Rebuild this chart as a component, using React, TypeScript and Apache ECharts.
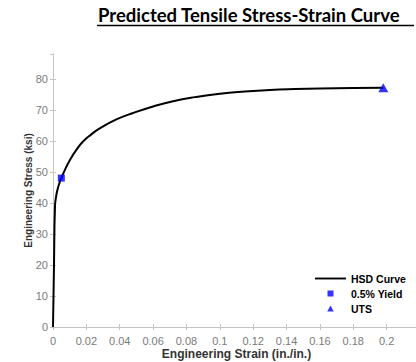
import React, { useEffect, useRef } from "react";
import * as echarts from "echarts";

const strain = [0, 0.0006, 0.0012, 0.002, 0.003, 0.004, 0.005, 0.007, 0.01, 0.014, 0.018, 0.023, 0.028, 0.038, 0.048, 0.06, 0.072, 0.085, 0.1, 0.115, 0.13, 0.145, 0.16, 0.18, 0.198];
const stress = [0, 20, 39, 42.5, 44.9, 46.6, 48, 50.5, 53.7, 57.1, 59.8, 62.1, 64, 66.9, 69, 71.1, 72.8, 74.1, 75.2, 75.9, 76.4, 76.7, 76.9, 77.05, 77.15];
const yieldPoint = [0.005, 48];
const utsPoint = [0.198, 77.15];
const seriesNames = ["HSD Curve", "0.5% Yield", "UTS"];
const titleText = "Predicted Tensile Stress-Strain Curve";

export default function App() {
  const ref = useRef<HTMLDivElement>(null);
  useEffect(() => {
    if (!ref.current) return;
    const chart = echarts.init(ref.current, null, { renderer: "svg" });
    const axisGray = "#c4c4c4";
    const labelGray = "#7a7a7a";
    const font = "Liberation Sans";
    chart.setOption({
      animation: false,
      title: {
        text: titleText,
        left: 98,
        top: 5,
        padding: 0,
        textStyle: { fontFamily: "Lato", fontWeight: "bold", fontSize: 18.5, color: "#000" },
      },
      graphic: [
        { type: "line", shape: { x1: 97, y1: 25.5, x2: 414, y2: 25.5 }, style: { stroke: "#000", lineWidth: 1.6 } },
      ],
      grid: { left: 53, top: 54, right: -4, bottom: 35, containLabel: false, outerBoundsMode: "none" },
      legend: {
        left: 315,
        top: 273,
        padding: 0,
        orient: "vertical",
        itemWidth: 31,
        itemHeight: 6,
        itemGap: 4,
        symbolKeepAspect: true,
        data: [
          { name: seriesNames[0], icon: "path://M0,0H33V2H0Z" },
          { name: seriesNames[1], icon: "path://M0,0H5V5H0Z" },
          { name: seriesNames[2], icon: "path://M3,0L6,5.5L0,5.5Z" },
        ],
        textStyle: { fontFamily: font, fontWeight: "bold", fontSize: 10.5, color: "#000" },
      },
      xAxis: [
        {
          type: "value",
          min: 0,
          max: 0.22,
          interval: 0.02,
          name: "Engineering Strain (in./in.)",
          nameLocation: "middle",
          nameGap: 21,
          nameMoveOverlap: false,
          nameTextStyle: { fontFamily: font, fontWeight: "bold", fontSize: 12, color: "#333" },
          axisLine: { lineStyle: { color: axisGray } },
          axisTick: { inside: true, length: 3, lineStyle: { color: axisGray } },
          axisLabel: {
            showMaxLabel: false,
            margin: 8,
            color: labelGray,
            fontFamily: font,
            fontSize: 11,
            formatter: (v: number) => String(+v.toFixed(2)),
          },
          splitLine: { show: false },
        },
        {
          type: "value",
          position: "top",
          min: 0,
          max: 0.22,
          interval: 0.02,
          axisLine: { lineStyle: { color: axisGray } },
          axisTick: { inside: true, length: 3, lineStyle: { color: axisGray } },
          axisLabel: { show: false },
          splitLine: { show: false },
        },
      ],
      yAxis: [
        {
          type: "value",
          min: 0,
          max: 88,
          interval: 10,
          name: "Engineering Stress (ksi)",
          nameLocation: "middle",
          nameGap: 20,
          nameMoveOverlap: false,
          nameTextStyle: { fontFamily: font, fontWeight: "bold", fontSize: 10, color: "#333" },
          axisLine: { show: true, lineStyle: { color: axisGray } },
          axisTick: { show: true, inside: true, length: 3, lineStyle: { color: axisGray } },
          axisLabel: { showMaxLabel: false, margin: 5, color: labelGray, fontFamily: font, fontSize: 11 },
          splitLine: { show: false },
        },
        {
          type: "value",
          position: "right",
          min: 0,
          max: 88,
          interval: 10,
          axisLine: { show: true, lineStyle: { color: axisGray } },
          axisTick: { show: true, inside: true, length: 3, lineStyle: { color: axisGray } },
          axisLabel: { show: false },
          splitLine: { show: false },
        },
      ],
      series: [
        {
          name: seriesNames[0],
          type: "line",
          data: strain.map((x, i) => [x, stress[i]]),
          showSymbol: false,
          symbol: "none",
          smooth: 0.5,
          lineStyle: { color: "#000", width: 2 },
          itemStyle: { color: "#000" },
          z: 3,
        },
        {
          name: seriesNames[1],
          type: "scatter",
          data: [yieldPoint],
          symbol: "rect",
          symbolSize: 7,
          itemStyle: { color: "#0000ff" },
          z: 4,
        },
        {
          name: seriesNames[2],
          type: "scatter",
          data: [utsPoint],
          symbol: "triangle",
          symbolSize: [10, 9],
          itemStyle: { color: "#0000ff" },
          z: 4,
        },
      ],
    });
    return () => chart.dispose();
  }, []);
  return (
    <div
      ref={ref}
      style={{ position: "absolute", left: 0, top: 0, width: 416, height: 362, background: "#fff" }}
    />
  );
}
